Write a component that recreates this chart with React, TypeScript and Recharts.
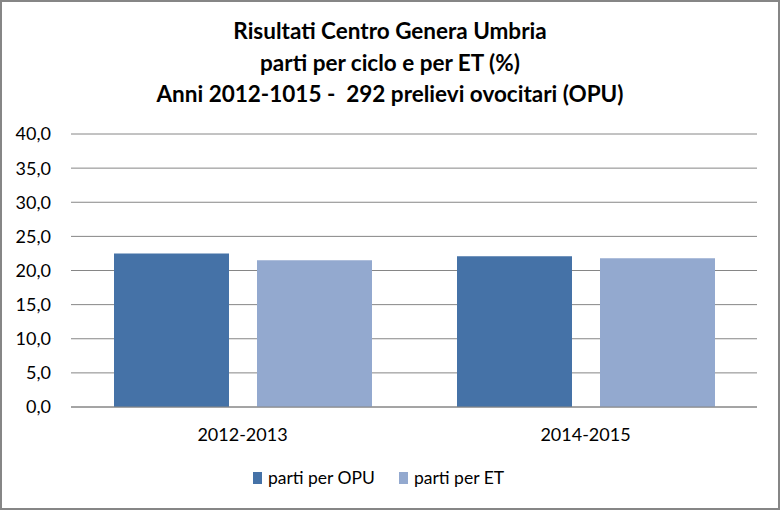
import React from "react";
import {
  BarChart,
  Bar,
  XAxis,
  YAxis,
  CartesianGrid,
  Legend,
} from "recharts";

const categories = ["2012-2013", "2014-2015"];
const partiPerOpu = [22.5, 22.1];
const partiPerEt = [21.5, 21.8];
const yTicks = [0, 5, 10, 15, 20, 25, 30, 35, 40];

const data = categories.map((name, i) => ({
  name,
  opu: partiPerOpu[i],
  et: partiPerEt[i],
}));

const FONT = "Lato, 'Open Sans', sans-serif";

const legendItems = [
  { label: "parti per OPU", color: "#4572A7" },
  { label: "parti per ET", color: "#93A9CF" },
];

function LegendContent() {
  return (
    <div style={{ display: "flex", justifyContent: "center", gap: 24, fontFamily: FONT, fontSize: 17.5, color: "#000", marginTop: 13 }}>
      {legendItems.map((it) => (
        <div key={it.label} style={{ display: "flex", alignItems: "center" }}>
          <span style={{ display: "inline-block", width: 9, height: 12, background: it.color, marginRight: 6 }} />
          <span>{it.label}</span>
        </div>
      ))}
    </div>
  );
}

export default function App() {
  return (
    <div style={{ position: "absolute", left: 0, top: 0, width: 780, height: 510, background: "#fff" }}>
      <div
        style={{
          position: "absolute",
          left: 0,
          top: 0,
          width: 776,
          height: 506,
          border: "2px solid #868686",
        }}
      />
      <div
        style={{
          position: "absolute",
          left: 0,
          top: 15,
          width: 780,
          textAlign: "center",
          fontFamily: FONT,
          fontWeight: "bold",
          fontSize: 22.5,
          lineHeight: "31.5px",
          color: "#000",
          whiteSpace: "pre",
        }}
      >
        <div>Risultati Centro Genera Umbria</div>
        <div>parti per ciclo e per ET (%)</div>
        <div>Anni 2012-1015 -  292 prelievi ovocitari (OPU)</div>
      </div>
      <div style={{ position: "absolute", left: 0, top: 0 }}>
        <BarChart
          width={780}
          height={510}
          data={data}
          margin={{ top: 134, right: 23, bottom: 0, left: 0 }}
          barCategoryGap={43}
          barGap={28}
        >
          <CartesianGrid vertical={false} stroke="#868686" strokeWidth={1} />
          <XAxis
            dataKey="name"
            axisLine={{ stroke: "#868686" }}
            tickLine={false}
            height={47}
            tick={{ fill: "#000", fontSize: 18, fontFamily: FONT, dy: 13 }}
          />
          <YAxis
            width={71}
            domain={[0, 40]}
            ticks={yTicks}
            interval={0}
            axisLine={false}
            tickLine={false}
            tickFormatter={(v: number) => v.toFixed(1).replace(".", ",")}
            tick={{ fill: "#000", fontSize: 18, fontFamily: FONT, dx: -12 }}
          />
          <Legend verticalAlign="bottom" height={56} content={<LegendContent />} />
          <Bar dataKey="opu" name="parti per OPU" fill="#4572A7" isAnimationActive={false} />
          <Bar dataKey="et" name="parti per ET" fill="#93A9CF" isAnimationActive={false} />
        </BarChart>
      </div>
    </div>
  );
}
